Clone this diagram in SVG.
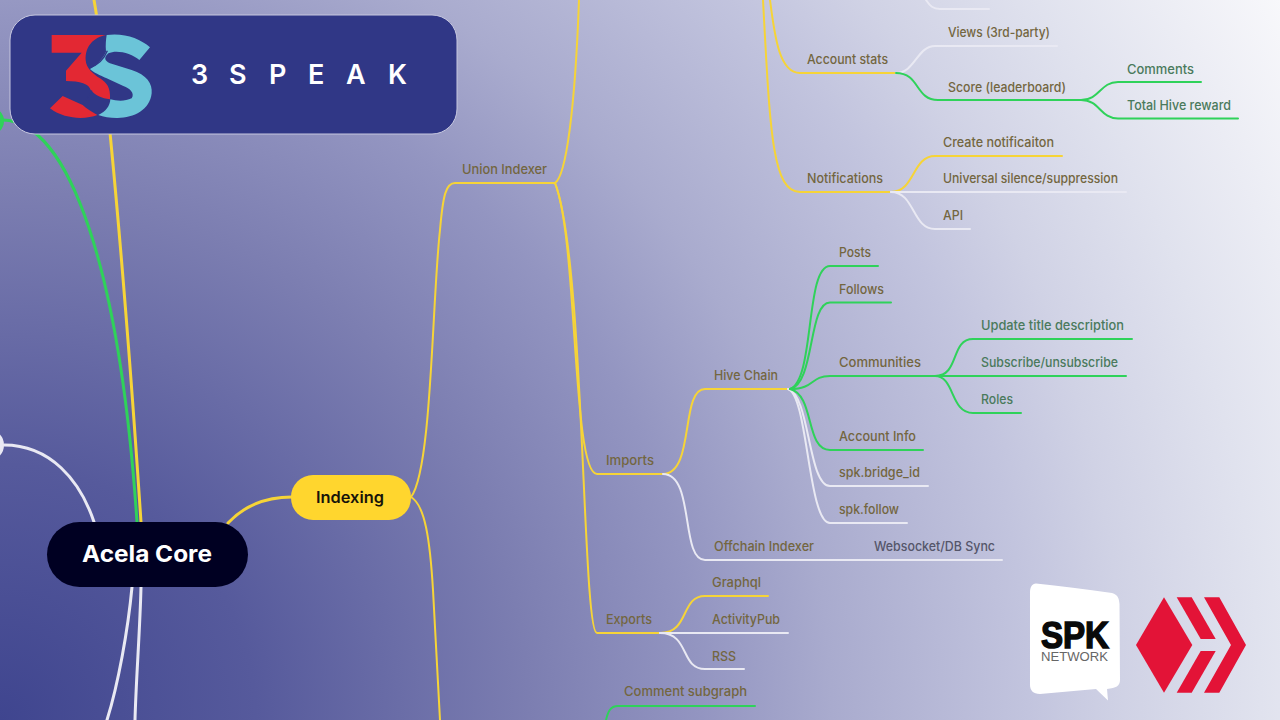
<svg xmlns="http://www.w3.org/2000/svg" width="1280" height="720" viewBox="0 0 1280 720">
<defs>
<radialGradient id="bg" gradientUnits="userSpaceOnUse" cx="0" cy="720" r="1469">
<stop offset="0" stop-color="#3f458f"/><stop offset="0.174" stop-color="#565a9c"/><stop offset="0.36" stop-color="#7c7eb1"/><stop offset="0.477" stop-color="#9395c1"/><stop offset="0.566" stop-color="#a9abce"/><stop offset="0.7" stop-color="#c2c4de"/><stop offset="0.765" stop-color="#d0d2e5"/><stop offset="0.858" stop-color="#e0e2ee"/><stop offset="1" stop-color="#f8f8fb"/>
</radialGradient>
</defs>
<style>
.y,.g,.w{fill:none;stroke-width:2;stroke-linecap:round}
.y{stroke:#f6d437}.g{stroke:#2fd25a}.w{stroke:#e9e9f3}
.t{stroke-width:3}
text{font-family:Inter,"Open Sans","Liberation Sans",sans-serif;font-size:13px;font-weight:500}
.ol{fill:#73663f}.gr{fill:#4a7a5c}.dk{fill:#55566a}
</style>
<rect width="1280" height="720" fill="url(#bg)"/>
<g id="connectors">
<path class="y t" d="M94 0C105 60 125 280 141 522"/>
<path class="g t" d="M3 120C70 122 120 270 137 522"/>
<path class="w t" d="M4 445C50 445 80 480 94 522"/>
<path class="w t" d="M132 587C128 630 118 685 107 720"/>
<path class="w t" d="M141 587C140 630 136 680 135 720"/>
<path class="y t" d="M228 523C245 505 265 497 292 497"/>
<path class="y" d="M411 497C432 470 432 300 440 230C443 195 446 183 455 183L555 183"/>
<path class="y" d="M411 497C425 505 430 540 433 590C436 640 438 680 440 720"/>
<path class="y" d="M555 183C566 176 575 110 579 0"/>
<path class="y" d="M555 183C578 240 572 474 597 474L665 474"/>
<path class="y" d="M555 183C585 260 582 633 597 633L660 633"/>
<path class="y" d="M770 0C775 40 780 73 800 73L896 73"/>
<path class="y" d="M763 0C770 130 772 192 800 192L891 192"/>
<path class="w" d="M926 0C930 6 933 9 940 9L989 9"/>
<path class="w" d="M896 73C915 73 917 46 935 46L1057 46"/>
<path class="g" d="M896 73C920 73 915 100 938 100L1081 100"/>
<path class="g" d="M1081 100C1100 100 1100 82 1118 82L1201 82"/>
<path class="g" d="M1081 100C1100 100 1100 118.500 1118 118.500L1238 118.500"/>
<path class="y" d="M891 192C915 192 912 156 935 156L1062 156"/>
<path class="w" d="M891 192L1126 192"/>
<path class="w" d="M891 192C915 192 912 229 935 229L970 229"/>
<path class="y" d="M663 474C695 474 680 389 705 389L790 389"/>
<path class="w" d="M663 474C695 474 680 560 705 560L1002 560"/>
<path class="w" d="M788 389C810 395 808 486 830 486L928 486"/>
<path class="w" d="M788 389C808 395 808 523 830 523L907 523"/>
<path class="g" d="M790 389C815 380 805 266 830 266L878 266"/>
<path class="g" d="M790 389C815 384 808 302.500 830 302.500L891 302.500"/>
<path class="g" d="M790 389C815 389 810 376 830 376L935 376"/>
<path class="g" d="M790 389C815 395 805 450 830 450L923 450"/>
<path class="g" d="M935 376C960 376 950 339 973 339L1132 339"/>
<path class="g" d="M935 376L1126 376"/>
<path class="g" d="M935 376C955 376 950 413 973 413L1021 413"/>
<path class="y" d="M660 633C690 633 680 596 705 596L768 596"/>
<path class="w" d="M660 633L788 633"/>
<path class="w" d="M660 633C690 633 680 669 705 669L744 669"/>
<path class="g" d="M606 720C608 712 610 706 618 706L755 706"/>
</g>
<g id="stub-green"><ellipse cx="-10" cy="121" rx="14" ry="14" fill="#2fd25a"/></g>
<g id="stub-white"><ellipse cx="-10" cy="445" rx="14" ry="15" fill="#e9e9f3"/></g>
<g id="acela"><rect x="47" y="522" width="201" height="65" rx="32.500" fill="#000022"/>
<text x="82" y="562" textLength="130" lengthAdjust="spacingAndGlyphs" style="font-size:23px;font-weight:700" fill="#fff">Acela Core</text></g>
<g id="indexing"><rect x="291" y="475" width="120" height="45" rx="22" fill="#ffd62e"/>
<text x="316" y="503" textLength="68" lengthAdjust="spacingAndGlyphs" style="font-size:15.500px;font-weight:600" fill="#17140a">Indexing</text></g>
<g id="labels">
<text class="ol" x="462" y="174" textLength="85" lengthAdjust="spacingAndGlyphs">Union Indexer</text>
<text class="ol" x="807" y="64" textLength="81" lengthAdjust="spacingAndGlyphs">Account stats</text>
<text class="ol" x="948" y="36.500" textLength="102" lengthAdjust="spacingAndGlyphs">Views (3rd-party)</text>
<text class="ol" x="948" y="91.500" textLength="118" lengthAdjust="spacingAndGlyphs">Score (leaderboard)</text>
<text class="gr" x="1127" y="73.500" textLength="67" lengthAdjust="spacingAndGlyphs">Comments</text>
<text class="gr" x="1127" y="109.500" textLength="104" lengthAdjust="spacingAndGlyphs">Total Hive reward</text>
<text class="ol" x="807" y="183" textLength="76" lengthAdjust="spacingAndGlyphs">Notifications</text>
<text class="ol" x="943" y="146.500" textLength="111" lengthAdjust="spacingAndGlyphs">Create notificaiton</text>
<text class="ol" x="943" y="183" textLength="175" lengthAdjust="spacingAndGlyphs">Universal silence/suppression</text>
<text class="ol" x="943" y="220" textLength="20" lengthAdjust="spacingAndGlyphs">API</text>
<text class="ol" x="606" y="465" textLength="48" lengthAdjust="spacingAndGlyphs">Imports</text>
<text class="ol" x="714" y="380" textLength="64" lengthAdjust="spacingAndGlyphs">Hive Chain</text>
<text class="ol" x="714" y="550.500" textLength="100" lengthAdjust="spacingAndGlyphs">Offchain Indexer</text>
<text class="dk" x="874" y="550.500" textLength="121" lengthAdjust="spacingAndGlyphs">Websocket/DB Sync</text>
<text class="ol" x="839" y="257" textLength="32" lengthAdjust="spacingAndGlyphs">Posts</text>
<text class="ol" x="839" y="293.500" textLength="45" lengthAdjust="spacingAndGlyphs">Follows</text>
<text class="ol" x="839" y="367" textLength="82" lengthAdjust="spacingAndGlyphs">Communities</text>
<text class="ol" x="839" y="440.500" textLength="77" lengthAdjust="spacingAndGlyphs">Account Info</text>
<text class="ol" x="839" y="476.500" textLength="81" lengthAdjust="spacingAndGlyphs">spk.bridge_id</text>
<text class="ol" x="839" y="513.500" textLength="60" lengthAdjust="spacingAndGlyphs">spk.follow</text>
<text class="gr" x="981" y="330" textLength="143" lengthAdjust="spacingAndGlyphs">Update title description</text>
<text class="gr" x="981" y="366.500" textLength="137" lengthAdjust="spacingAndGlyphs">Subscribe/unsubscribe</text>
<text class="gr" x="981" y="403.500" textLength="32" lengthAdjust="spacingAndGlyphs">Roles</text>
<text class="ol" x="606" y="624" textLength="46" lengthAdjust="spacingAndGlyphs">Exports</text>
<text class="ol" x="712" y="587" textLength="49" lengthAdjust="spacingAndGlyphs">Graphql</text>
<text class="ol" x="712" y="624" textLength="68" lengthAdjust="spacingAndGlyphs">ActivityPub</text>
<text class="ol" x="712" y="660.500" textLength="24" lengthAdjust="spacingAndGlyphs">RSS</text>
<text class="ol" x="624" y="696" textLength="123" lengthAdjust="spacingAndGlyphs">Comment subgraph</text>
</g>
<g id="logo-3speak">
<rect x="10" y="15" width="447" height="119" rx="25" fill="#303786" stroke="#c6c7df" stroke-width="1"/>
<g transform="scale(0.33333)">
<path fill="#e32833" d="M155 105L318 105C280 112 255 140 257 180C258 205 280 222 300 235C320 248 332 262 330 298C305 295 285 285 272 270C268 252 240 243 198 243L198 212L245 158L155 158Z"/>
<path fill="#e32833" d="M188 288L248 315C258 325 275 335 292 345C260 358 195 360 150 325Z"/>
<path fill="#6bc4d8" d="M320 105C372 98 420 115 450 142L418 180C395 160 350 148 325 160C312 172 312 182 330 190L395 210C440 225 458 250 455 280C450 330 400 355 350 354C330 354 310 350 295 345C318 335 330 318 331 298C350 303 375 305 395 295C405 280 390 265 370 258L320 235C300 225 280 218 270 207C290 195 310 175 318 155C316 135 318 118 320 105Z"/>
<path fill="none" stroke="#303786" stroke-width="4" d="M322 152C312 178 292 195 268 204M276 272L250 312"/>
</g>
<text x="191 229 269 308 346 388" y="84" style="font-size:27px;font-weight:600" fill="#fff">3SPEAK</text>
</g>
<g id="logo-spk">
<path fill="#fff" d="M1036 583.500C1060 586 1085 589 1112 593C1118 595 1119 598 1119.500 604L1120 680C1120 686 1116 688 1107 689L1108 700.500L1096 689L1040 694C1033 694 1030 690 1030 685L1030 592C1030 587 1032 584 1036 583.500Z"/>
<text x="1041" y="648.300" textLength="68" lengthAdjust="spacingAndGlyphs" style="font-family:'Liberation Sans',sans-serif;font-size:36px;font-weight:700" fill="#0a0a0a" stroke="#0a0a0a" stroke-width="1.500">SPK</text>
<text x="1041" y="660.700" textLength="67" lengthAdjust="spacingAndGlyphs" style="font-family:'Liberation Sans',sans-serif;font-size:13px;font-weight:400" fill="#666">NETWORK</text>
</g>
<g id="logo-hive" fill="#e31337">
<path d="M1164 597.300L1192.300 645L1164 692.700L1136 645Z"/>
<path d="M1176.700 597.300L1191.700 597.300L1215.700 639L1200.700 639Z"/>
<path d="M1200.700 651L1215.700 651L1191.700 692.700L1176.700 692.700Z"/>
<path d="M1204 597.300L1219.300 597.300L1246 645L1219.300 692.700L1204 692.700L1231 645Z"/>
</g>
</svg>
